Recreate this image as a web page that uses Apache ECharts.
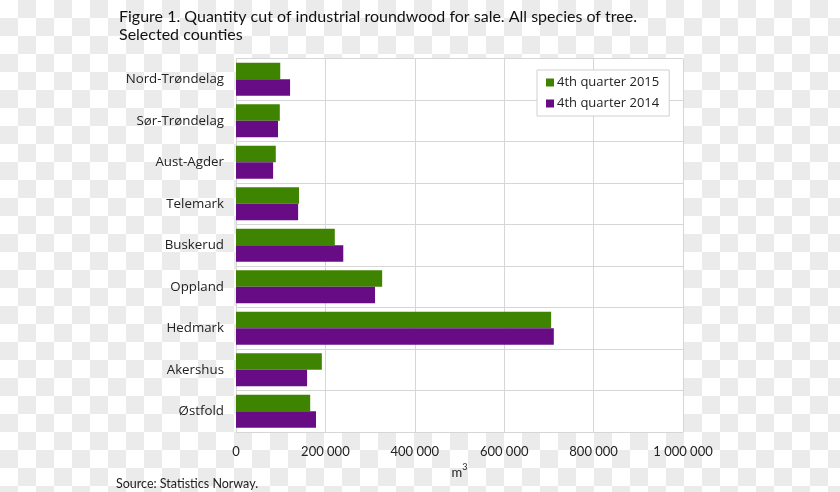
<!DOCTYPE html>
<html>
<head>
<meta charset="utf-8">
<script src="https://cdn.jsdelivr.net/npm/echarts@6/dist/echarts.min.js"></script>
<style>
html,body{margin:0;padding:0;}
body{width:840px;height:492px;background-color:#fff;
background-image:conic-gradient(#ebebeb 25%, #ffffff 0 50%, #ebebeb 0 75%, #ffffff 0);
background-size:36px 36px;background-position:0 0;}
#c{width:840px;height:492px;}
</style>
</head>
<body>
<div id="c"></div>
<script>
var categories = ['Nord-Trøndelag','Sør-Trøndelag','Aust-Agder','Telemark','Buskerud','Oppland','Hedmark','Akershus','Østfold'];
var q2015 = [99000, 98000, 89000, 141000, 221000, 327000, 705000, 192000, 166000];
var q2014 = [121000, 94000, 83000, 139000, 240000, 311000, 711000, 159000, 179000];
var seriesNames = ['4th quarter 2015', '4th quarter 2014'];
var xTicks = [0, 200000, 400000, 600000, 800000, 1000000];

function fmt(v){ return String(v).replace(/\B(?=(\d{3})+(?!\d))/g, ' '); }

var chart = echarts.init(document.getElementById('c'), null, {renderer:'canvas'});
chart.setOption({
  backgroundColor: 'transparent',
  animation: false,
  title: {
    text: 'Figure 1. Quantity cut of industrial roundwood for sale. All species of tree.\nSelected counties',
    left: 114, top: 3,
    textStyle: {fontFamily: 'Lato', fontSize: 16, fontWeight: 'normal', color: '#111', lineHeight: 18}
  },
  legend: {
    orient: 'vertical', left: 537, top: 70, width: 135,
    padding: [6, 10, 6, 9],
    backgroundColor: '#fff', borderColor: '#d0d0d0', borderWidth: 1,
    itemWidth: 8, itemHeight: 8, itemGap: 8,
    icon: 'rect',
    textStyle: {fontFamily: 'Open Sans', fontSize: 13, color: '#222', padding: [0,0,0,-2]},
    data: seriesNames
  },
  grid: {left: 236, right: 157, top: 58.5, bottom: 60, show: true, backgroundColor: '#fff', borderWidth: 0},
  xAxis: {
    type: 'value', min: xTicks[0], max: xTicks[xTicks.length-1], interval: 200000,
    name: '{a|m}{b|3}', nameLocation: 'middle', nameGap: 30,
    nameTextStyle: {rich: {
      a: {fontFamily: 'Lato', fontSize: 13, color: '#222', verticalAlign: 'bottom', lineHeight: 16},
      b: {fontFamily: 'Lato', fontSize: 9, color: '#222', verticalAlign: 'top', lineHeight: 16, padding: [0,0,4,0]}
    }},
    axisLine: {show: false}, axisTick: {show: false},
    axisLabel: {fontFamily: 'Lato', fontSize: 13, color: '#222', margin: 13, formatter: fmt},
    splitLine: {show: true, lineStyle: {color: '#d6d6d6', width: 1}}
  },
  yAxis: {
    type: 'category', data: categories, inverse: true,
    axisLine: {show: true, lineStyle: {color: '#d6d6d6'}},
    axisTick: {show: false},
    axisLabel: {fontFamily: 'Open Sans', fontSize: 13.3, color: '#222', margin: 12},
    splitLine: {show: true, lineStyle: {color: '#d6d6d6', width: 1}}
  },
  series: [
    {name: seriesNames[0], type: 'bar', data: q2015, itemStyle: {color: '#3f8400'}, barGap: '0%', barCategoryGap: '20%'},
    {name: seriesNames[1], type: 'bar', data: q2014, itemStyle: {color: '#680c86'}, barGap: '0%', barCategoryGap: '20%'}
  ],
  graphic: [
    {type: 'rect', left: 236, top: 58, shape: {width: 447, height: 1}, style: {fill: '#d6d6d6'}, silent: true, z: 0},
    {type: 'text', left: 116, top: 477, style: {text: 'Source: Statistics Norway.', font: '12.5px Lato', fill: '#222'}}
  ]
});
</script>
</body>
</html>
